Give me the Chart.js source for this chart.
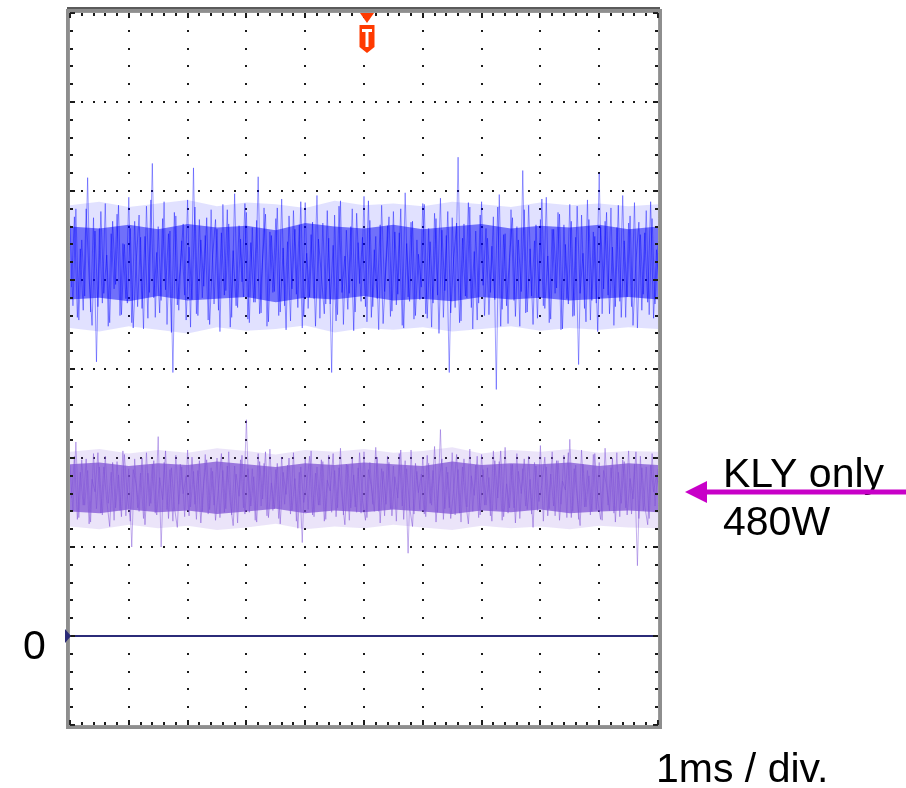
<!DOCTYPE html>
<html>
<head>
<meta charset="utf-8">
<script src="https://cdn.jsdelivr.net/npm/chart.js@4/dist/chart.umd.min.js"></script>
<style>
  html, body { margin: 0; padding: 0; background: #ffffff; }
  #wrap { width: 906px; height: 788px; position: relative; }
</style>
</head>
<body>
<div id="wrap"><canvas id="c"></canvas></div>
<script>
// ---- Data (units: vertical divisions; zero level = 0; time in ms = divisions) ----
const timeDivisions = 10;          // 1 ms / div
const sampleStep = 0.05;           // ms between trace samples
const sampleOffset = 0.025;        // second acquisition pass is interleaved
const envelopeStep = 0.5;          // ms between envelope samples

// Upper trace (blue), sample-by-sample estimate read from the screen (pass 1, with spikes)
const blueTrace = [
  4.62,3.71,4.80,3.55,4.45,3.82,5.15,3.64,4.70,3.08,
  4.58,3.74,4.86,3.48,4.52,3.90,4.74,3.60,4.41,3.79,
  4.93,3.52,4.66,3.70,4.48,3.45,4.83,3.86,5.31,3.58,
  4.60,3.77,4.88,3.50,4.55,2.96,4.72,3.66,4.44,3.83,
  4.90,3.47,5.26,3.62,4.68,3.80,4.50,3.55,4.79,3.73,
  4.57,3.42,4.85,3.88,4.63,3.58,4.97,3.69,4.46,3.81,
  4.76,3.52,4.59,3.75,5.16,3.63,4.81,3.48,4.54,3.86,
  4.69,3.60,4.91,3.71,4.43,3.54,4.78,3.84,4.62,3.46,
  4.87,3.68,4.51,3.79,4.95,3.57,4.64,3.73,4.47,2.96,
  4.73,3.61,4.89,3.50,4.56,3.85,4.80,3.64,4.42,3.76,
  4.94,3.53,4.67,3.70,4.49,3.44,4.84,3.87,4.61,3.59,
  4.77,3.72,4.53,3.49,4.98,3.81,4.65,3.56,4.45,3.78,
  4.86,3.62,4.58,3.47,4.75,3.83,4.92,3.58,4.50,2.96,
  4.70,3.69,5.38,3.54,4.63,3.80,4.82,3.45,4.55,3.74,
  4.88,3.60,4.47,3.86,4.71,2.77,4.96,3.67,4.52,3.51,
  4.79,3.77,4.60,3.48,5.23,3.63,4.84,3.82,4.44,3.57,
  4.68,3.71,4.93,3.52,4.57,3.85,4.76,3.44,4.62,3.79,
  4.85,3.59,4.48,3.05,4.73,3.68,4.90,3.55,4.54,3.74,
  5.20,3.62,4.66,3.83,4.81,3.49,4.59,3.76,4.95,3.58,
  4.64,3.70,4.87,3.46,4.51,3.84,4.78,3.61,4.69,3.73,
  4.40
];
// Upper trace (blue), pass 2
const blueTrace2 = [
  3.92,4.71,3.58,4.35,3.66,4.80,4.02,3.49,4.55,3.70,
  4.77,3.85,4.28,3.52,4.66,3.95,4.84,3.61,4.40,3.74,
  4.58,3.46,4.20,4.73,3.68,4.49,3.57,4.90,3.80,4.31,
  3.63,4.69,3.89,4.52,3.41,4.76,3.72,4.15,4.63,3.55,
  4.37,3.78,4.82,3.60,4.45,3.93,4.70,3.50,4.26,4.68,
  3.66,4.53,3.83,4.79,3.47,4.33,3.71,4.61,3.98,4.86,
  3.56,4.42,3.75,4.67,3.62,4.24,4.74,3.53,4.50,3.87,
  4.81,3.64,4.36,3.44,4.72,3.90,4.57,3.69,4.88,3.59,
  4.30,3.81,4.65,3.48,4.46,4.05,3.62,4.78,3.73,4.39,
  3.54,4.83,3.86,4.27,3.67,4.60,3.43,4.75,3.96,4.48,
  3.70,4.89,3.58,4.34,3.79,4.62,3.51,4.18,4.71,3.65,
  4.54,3.84,4.80,3.46,4.41,3.76,4.66,3.60,4.29,3.92,
  4.85,3.57,4.43,3.74,4.69,3.40,4.56,3.88,4.77,3.63,
  4.23,4.64,3.52,4.47,3.82,4.87,3.69,4.32,3.55,4.73,
  3.94,4.58,3.61,4.38,3.78,4.82,3.48,4.51,3.71,4.25,
  4.70,3.59,4.45,3.87,4.79,3.64,4.35,3.50,4.62,3.80,
  4.91,3.68,4.27,3.56,4.57,3.91,4.74,3.45,4.40,3.73,
  4.66,3.60,4.83,3.85,4.30,3.53,4.68,3.77,4.49,3.42,
  4.60,3.90,4.76,3.62,4.37,3.70,4.84,3.58,4.44,3.81,
  4.72,3.49,4.21,4.65,3.66,4.53,3.75,4.88,3.57,4.34,
  3.79
];
// Lower trace (purple, "KLY only 480W"), pass 1 with spikes
const purpleTrace = [
  1.92,1.40,2.18,1.33,1.98,1.47,1.86,1.28,2.05,1.43,
  1.90,1.36,2.02,1.49,1.84,1.30,1.96,1.41,2.08,1.35,
  1.88,1.00,1.99,1.44,1.83,1.32,2.06,1.46,1.93,1.38,
  2.24,1.00,1.95,1.42,1.87,1.29,2.03,1.48,1.90,1.34,
  2.09,1.45,1.85,1.31,1.97,1.40,2.04,1.37,1.89,1.47,
  2.00,1.33,1.86,1.43,2.07,1.36,1.91,1.27,1.98,1.44,
  2.43,1.39,1.88,1.30,2.05,1.46,1.94,1.35,2.10,1.41,
  1.87,1.32,2.01,1.48,1.92,1.37,2.06,1.29,1.84,1.05,
  1.99,1.42,2.08,1.34,1.90,1.47,1.96,1.31,2.03,1.39,
  1.86,1.44,2.11,1.36,1.93,1.30,2.00,1.45,1.89,1.38,
  2.07,1.33,1.95,1.48,2.12,1.40,1.88,1.35,2.02,1.43,
  1.91,1.29,2.05,1.46,1.97,0.93,2.09,1.37,1.85,1.42,
  2.01,1.34,1.94,1.47,2.13,1.39,2.32,1.31,1.90,1.44,
  2.06,1.36,1.87,1.28,1.99,1.45,2.10,1.40,1.92,1.33,
  2.04,1.47,1.89,1.35,2.08,1.42,1.96,1.30,2.12,1.38,
  1.93,1.44,2.05,1.32,1.88,1.46,2.02,1.37,1.95,1.41,
  2.14,1.29,1.90,1.43,2.07,1.35,1.97,1.48,2.03,1.33,
  2.21,1.40,1.92,1.31,2.09,1.45,1.86,1.36,2.04,1.42,
  1.95,1.30,2.11,1.47,1.89,1.38,2.06,1.34,1.98,1.44,
  2.08,1.37,1.93,0.79,2.02,1.41,1.90,1.32,2.05,1.46,
  1.88
];
// Lower trace (purple), pass 2
const purpleTrace2 = [
  1.55,2.02,1.31,1.84,1.47,1.99,1.26,1.76,1.62,2.06,
  1.38,1.90,1.52,1.23,1.95,1.44,1.81,1.34,2.04,1.58,
  1.29,1.87,1.71,1.40,2.00,1.25,1.83,1.49,1.97,1.36,
  1.78,1.53,2.08,1.32,1.89,1.45,1.22,1.93,1.60,1.80,
  1.35,2.01,1.48,1.86,1.27,1.74,1.98,1.42,1.85,1.30,
  1.66,2.05,1.39,1.91,1.51,1.24,1.82,1.57,2.03,1.37,
  1.88,1.46,1.79,1.28,1.96,1.54,2.07,1.33,1.72,1.43,
  1.94,1.26,1.84,1.59,2.00,1.41,1.77,1.21,1.90,1.50,
  1.69,2.02,1.36,1.83,1.47,1.98,1.29,1.75,1.63,2.05,
  1.34,1.89,1.56,1.25,1.92,1.44,1.81,1.39,2.06,1.52,
  1.30,1.87,1.68,1.40,2.01,1.27,1.85,1.48,1.95,1.35,
  1.79,1.55,2.09,1.31,1.88,1.45,1.23,1.94,1.61,1.82,
  1.37,2.03,1.49,1.86,1.28,1.73,1.99,1.43,1.84,1.32,
  1.65,2.04,1.38,1.90,1.53,1.26,1.80,1.58,2.02,1.36,
  1.87,1.47,1.78,1.29,1.97,1.55,2.08,1.34,1.71,1.44,
  1.93,1.27,1.85,1.60,1.99,1.42,1.76,1.22,1.91,1.51,
  1.70,2.01,1.35,1.82,1.46,1.97,1.30,1.74,1.64,2.06,
  1.33,1.88,1.57,1.24,1.93,1.45,1.80,1.40,2.05,1.53,
  1.31,1.86,1.69,1.41,2.00,1.28,1.84,1.49,1.96,1.36,
  1.77,1.54,2.07,1.32,1.89,1.46,1.25,1.92,1.62,1.81,
  1.60
];
// Dense core of each trace (upper / lower edge every 0.5 div)
const blueCoreHi   = [4.60,4.58,4.62,4.57,4.63,4.59,4.61,4.56,4.64,4.60,4.58,4.62,4.57,4.60,4.63,4.58,4.61,4.59,4.62,4.57,4.60];
const blueCoreLo   = [3.78,3.80,3.76,3.82,3.77,3.79,3.81,3.75,3.80,3.78,3.82,3.77,3.79,3.76,3.81,3.78,3.80,3.77,3.79,3.81,3.78];
const purpleCoreHi = [1.93,1.95,1.91,1.94,1.92,1.96,1.93,1.90,1.94,1.92,1.95,1.93,1.91,1.96,1.92,1.94,1.93,1.95,1.91,1.94,1.92];
const purpleCoreLo = [1.40,1.38,1.42,1.39,1.41,1.37,1.40,1.43,1.38,1.41,1.39,1.42,1.40,1.37,1.41,1.39,1.42,1.38,1.40,1.41,1.39];
// Light fringe around each trace (upper / lower edge every 0.5 div)
const blueHaloHi   = [4.84,4.88,4.82,4.86,4.90,4.83,4.87,4.85,4.81,4.89,4.84,4.86,4.83,4.88,4.85,4.82,4.87,4.84,4.86,4.83,4.85];
const blueHaloLo   = [3.46,3.42,3.48,3.44,3.40,3.47,3.43,3.45,3.49,3.41,3.46,3.44,3.47,3.42,3.45,3.48,3.43,3.46,3.44,3.47,3.45];
const purpleHaloHi = [2.07,2.10,2.05,2.09,2.06,2.11,2.08,2.04,2.09,2.07,2.10,2.06,2.08,2.12,2.05,2.09,2.07,2.10,2.06,2.08,2.07];
const purpleHaloLo = [1.23,1.20,1.25,1.21,1.24,1.19,1.22,1.26,1.20,1.23,1.21,1.25,1.22,1.19,1.24,1.21,1.23,1.20,1.24,1.22,1.21];
// Zero reference trace
const zeroLevel = [0, 0];
const zeroTimes = [0, 10];

// Axis layout (divisions)
const yMin = -1, yMax = 7;
const xMajor = [1,2,3,4,5,6,7,8,9];
const yMajor = [0,1,2,3,4,5,6];
const triggerTime = 5;

// Labels
const zeroLabel = '0';
const traceLabelLines = ['KLY only', '480W'];
const timebaseLabel = '1ms / div.';

// ---- build datasets ----
const pts = (arr, step, off) => arr.map((v, i) => ({ x: (off || 0) + i * step, y: v }));
const band = (hi, lo, color, order) => ([
  { data: pts(hi, envelopeStep), borderWidth: 0, pointRadius: 0, fill: '+1', backgroundColor: color, order },
  { data: pts(lo, envelopeStep), borderWidth: 0, pointRadius: 0, fill: false, order }
]);

const data = {
  datasets: [
    { label: 'zero', data: zeroLevel.map((v, i) => ({ x: zeroTimes[i], y: v })),
      borderColor: '#2b2b78', borderWidth: 2, pointRadius: 0, order: 0 },
    { label: 'blue', data: pts(blueTrace, sampleStep),
      borderColor: 'rgba(0,0,255,0.38)', borderWidth: 1, pointRadius: 0, order: 1 },
    { label: 'blue2', data: pts(blueTrace2, sampleStep, sampleOffset),
      borderColor: 'rgba(0,0,255,0.42)', borderWidth: 1, pointRadius: 0, order: 1 },
    ...band(blueCoreHi, blueCoreLo, 'rgba(0,0,245,0.5)', 2),
    ...band(blueHaloHi, blueHaloLo, 'rgba(40,40,255,0.14)', 3),
    { label: 'purple', data: pts(purpleTrace, sampleStep),
      borderColor: 'rgba(125,80,215,0.45)', borderWidth: 1, pointRadius: 0, order: 1 },
    { label: 'purple2', data: pts(purpleTrace2, sampleStep, sampleOffset),
      borderColor: 'rgba(125,80,215,0.5)', borderWidth: 1, pointRadius: 0, order: 1 },
    ...band(purpleCoreHi, purpleCoreLo, 'rgba(118,70,208,0.68)', 2),
    ...band(purpleHaloHi, purpleHaloLo, 'rgba(130,90,220,0.16)', 3)
  ]
};

const scopePlugin = {
  id: 'scope',
  beforeDatasetsDraw(chart) {
    const { ctx, scales: { x, y } } = chart;
    ctx.save();
    ctx.fillStyle = '#1a1a1a';
    for (const gy of yMajor) {
      const py = Math.round(y.getPixelForValue(gy));
      for (let k = 1; k < timeDivisions * 5; k++) {
        const px = Math.round(x.getPixelForValue(k / 5));
        ctx.fillRect(px - 1, py - 1, 2, 2);
      }
    }
    for (const gx of xMajor) {
      const px = Math.round(x.getPixelForValue(gx));
      for (let k = yMin * 5 + 1; k < yMax * 5; k++) {
        const py = Math.round(y.getPixelForValue(k / 5));
        ctx.fillRect(px - 1, py - 1, 2, 2);
      }
    }
    ctx.restore();
  },
  afterDraw(chart) {
    const { ctx, chartArea: a, scales: { x, y } } = chart;
    ctx.save();
    // frame
    ctx.strokeStyle = '#8e8e8e';
    ctx.lineWidth = 3;
    ctx.strokeRect(a.left - 2.5, a.top - 2.5, a.right - a.left + 5, a.bottom - a.top + 5);
    ctx.strokeStyle = '#5a5a5a';
    ctx.lineWidth = 2;
    ctx.beginPath(); ctx.moveTo(a.left - 3, a.top - 5); ctx.lineTo(a.right + 2, a.top - 5); ctx.stroke();
    // frame ticks
    ctx.fillStyle = '#1a1a1a';
    for (let k = 0; k <= timeDivisions * 5; k++) {
      const px = Math.round(x.getPixelForValue(k / 5));
      const len = (k % 5 === 0) ? 5 : 3;
      ctx.fillRect(px - 1, a.top, 2, len);
      ctx.fillRect(px - 1, a.bottom - len, 2, len);
    }
    for (let k = yMin * 5; k <= yMax * 5; k++) {
      const py = Math.round(y.getPixelForValue(k / 5));
      const len = (k % 5 === 0) ? 5 : 3;
      ctx.fillRect(a.left, py - 1, len, 2);
      ctx.fillRect(a.right - len, py - 1, len, 2);
    }
    ctx.strokeStyle = '#333';
    ctx.lineWidth = 1;
    ctx.setLineDash([1, 1]);
    ctx.strokeRect(a.left - 0.5, a.top - 0.5, a.right - a.left + 1, a.bottom - a.top + 1);
    ctx.setLineDash([]);

    // zero marker
    const zy = y.getPixelForValue(0);
    ctx.fillStyle = '#2b2b78';
    ctx.beginPath();
    ctx.moveTo(a.left - 5, zy - 7); ctx.lineTo(a.left + 1, zy); ctx.lineTo(a.left - 5, zy + 7);
    ctx.closePath(); ctx.fill();

    // trigger marker
    const tx = x.getPixelForValue(triggerTime) + 3;
    ctx.fillStyle = '#ff3a00';
    ctx.beginPath();
    ctx.moveTo(tx - 7, a.top); ctx.lineTo(tx + 7, a.top); ctx.lineTo(tx, a.top + 10);
    ctx.closePath(); ctx.fill();
    const sy = a.top + 12;
    ctx.beginPath();
    ctx.moveTo(tx - 7.5, sy); ctx.lineTo(tx + 7.5, sy); ctx.lineTo(tx + 7.5, sy + 22);
    ctx.lineTo(tx, sy + 28); ctx.lineTo(tx - 7.5, sy + 22); ctx.closePath(); ctx.fill();
    ctx.fillStyle = '#ffffff';
    ctx.fillRect(tx - 5, sy + 4, 10, 3);
    ctx.fillRect(tx - 1.5, sy + 4, 3, 18);

    // texts
    ctx.fillStyle = '#000';
    ctx.font = '41px "Liberation Sans", Arial, sans-serif';
    ctx.textBaseline = 'alphabetic';
    ctx.textAlign = 'left';
    ctx.fillText(zeroLabel, 23, zy + 23);
    ctx.fillText(traceLabelLines[0], 723, 487);
    ctx.fillText(traceLabelLines[1], 723, 535);
    ctx.fillText(timebaseLabel, 656, 782);

    // arrow
    const ay = 492;
    ctx.strokeStyle = '#c800c8';
    ctx.fillStyle = '#c800c8';
    ctx.lineWidth = 5;
    ctx.beginPath(); ctx.moveTo(703, ay); ctx.lineTo(906, ay); ctx.stroke();
    ctx.beginPath();
    ctx.moveTo(685, ay); ctx.lineTo(707, ay - 11); ctx.lineTo(707, ay + 11);
    ctx.closePath(); ctx.fill();
    ctx.restore();
  }
};

new Chart(document.getElementById('c'), {
  type: 'line',
  data,
  options: {
    responsive: true,
    maintainAspectRatio: false,
    animation: false,
    layout: { padding: { left: 70, top: 13, right: 248, bottom: 63 } },
    scales: {
      x: { type: 'linear', min: 0, max: timeDivisions, display: false },
      y: { type: 'linear', min: yMin, max: yMax, display: false }
    },
    elements: { line: { tension: 0 } },
    plugins: { legend: { display: false }, tooltip: { enabled: false } }
  },
  plugins: [scopePlugin]
});
</script>
</body>
</html>
